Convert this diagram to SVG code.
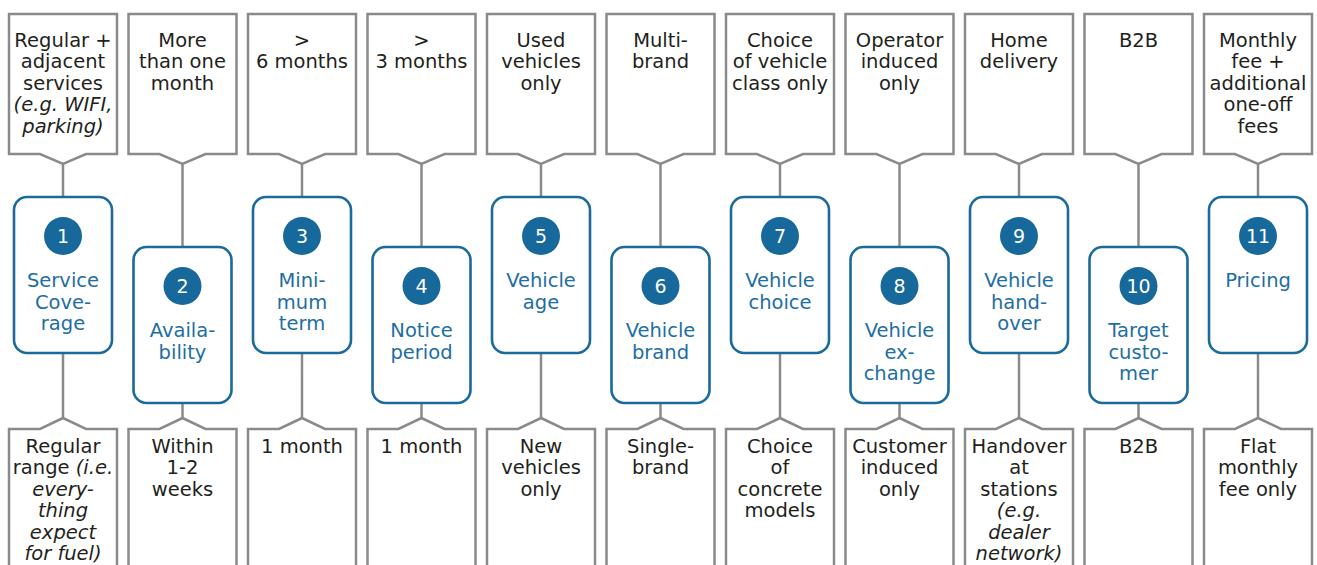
<svg xmlns="http://www.w3.org/2000/svg" width="1317" height="565" viewBox="0 0 1317 565">
  <style>
    .frame { fill: #ffffff; stroke: #8a8a8a; stroke-width: 2.5; stroke-linejoin: miter; }
    .link { stroke: #8a8a8a; stroke-width: 2.5; fill: none; }
    .node { fill: #ffffff; stroke: #1a6a9c; stroke-width: 2.6; }
    .badge { fill: #17689b; }
    .num { font-family: "DejaVu Sans", "Liberation Sans", sans-serif; font-size: 19px; fill: #ffffff; text-anchor: middle; }
    .opt { font-family: "DejaVu Sans", "Liberation Sans", sans-serif; font-size: 19.5px; fill: #231f20; text-anchor: middle; }
    .lbl { font-family: "DejaVu Sans", "Liberation Sans", sans-serif; font-size: 19.5px; fill: #1d6ea3; text-anchor: middle; }
    .it { font-style: italic; }
  </style>
  <defs>
    <path id="topFrame" class="frame" d="M-54,14 H54 V154 H23 L0,164 L-23,154 H-54 Z"/>
    <path id="bottomFrame" class="frame" d="M-54,580 V429 H-23 L0,418 L23,429 H54 V580"/>
  </defs>

  <!-- connectors: apex of upper frame to node, node to apex of lower frame -->
  <g id="connectors">
    <line class="link" x1="63" y1="164" x2="63" y2="197"/><line class="link" x1="63" y1="353" x2="63" y2="418"/>
    <line class="link" x1="182.5" y1="164" x2="182.5" y2="247"/><line class="link" x1="182.5" y1="403" x2="182.5" y2="418"/>
    <line class="link" x1="302" y1="164" x2="302" y2="197"/><line class="link" x1="302" y1="353" x2="302" y2="418"/>
    <line class="link" x1="421.5" y1="164" x2="421.5" y2="247"/><line class="link" x1="421.5" y1="403" x2="421.5" y2="418"/>
    <line class="link" x1="541" y1="164" x2="541" y2="197"/><line class="link" x1="541" y1="353" x2="541" y2="418"/>
    <line class="link" x1="660.5" y1="164" x2="660.5" y2="247"/><line class="link" x1="660.5" y1="403" x2="660.5" y2="418"/>
    <line class="link" x1="780" y1="164" x2="780" y2="197"/><line class="link" x1="780" y1="353" x2="780" y2="418"/>
    <line class="link" x1="899.5" y1="164" x2="899.5" y2="247"/><line class="link" x1="899.5" y1="403" x2="899.5" y2="418"/>
    <line class="link" x1="1019" y1="164" x2="1019" y2="197"/><line class="link" x1="1019" y1="353" x2="1019" y2="418"/>
    <line class="link" x1="1138.5" y1="164" x2="1138.5" y2="247"/><line class="link" x1="1138.5" y1="403" x2="1138.5" y2="418"/>
    <line class="link" x1="1258" y1="164" x2="1258" y2="197"/><line class="link" x1="1258" y1="353" x2="1258" y2="418"/>
  </g>

  <!-- 1 Service coverage -->
  <g id="top-1" transform="translate(63,0)">
    <use href="#topFrame"/>
    <text class="opt"><tspan x="0" y="47">Regular +</tspan><tspan x="0" y="68.4">adjacent</tspan><tspan x="0" y="89.8">services</tspan><tspan x="0" y="111.2" class="it">(e.g. WIFI,</tspan><tspan x="0" y="132.6" class="it">parking)</tspan></text>
  </g>
  <g id="node-1" transform="translate(63,197)">
    <rect class="node" x="-49" y="0" width="98" height="156" rx="13"/>
    <circle class="badge" cx="0" cy="39" r="19"/>
    <text class="num" x="0" y="46">1</text>
    <text class="lbl"><tspan x="0" y="90">Service</tspan><tspan x="0" y="111.5">Cove-</tspan><tspan x="0" y="133">rage</tspan></text>
  </g>
  <g id="bottom-1" transform="translate(63,0)">
    <use href="#bottomFrame"/>
    <text class="opt"><tspan x="0" y="453">Regular</tspan><tspan x="0" y="474.4">range <tspan class="it">(i.e.</tspan></tspan><tspan x="0" y="495.8" class="it">every-</tspan><tspan x="0" y="517.2" class="it">thing</tspan><tspan x="0" y="538.6" class="it">expect</tspan><tspan x="0" y="560" class="it">for fuel)</tspan></text>
  </g>

  <!-- 2 Availability -->
  <g id="top-2" transform="translate(182.5,0)">
    <use href="#topFrame"/>
    <text class="opt"><tspan x="0" y="47">More</tspan><tspan x="0" y="68.4">than one</tspan><tspan x="0" y="89.8">month</tspan></text>
  </g>
  <g id="node-2" transform="translate(182.5,247)">
    <rect class="node" x="-49" y="0" width="98" height="156" rx="13"/>
    <circle class="badge" cx="0" cy="39" r="19"/>
    <text class="num" x="0" y="46">2</text>
    <text class="lbl"><tspan x="0" y="90">Availa-</tspan><tspan x="0" y="111.5">bility</tspan></text>
  </g>
  <g id="bottom-2" transform="translate(182.5,0)">
    <use href="#bottomFrame"/>
    <text class="opt"><tspan x="0" y="453">Within</tspan><tspan x="0" y="474.4">1-2</tspan><tspan x="0" y="495.8">weeks</tspan></text>
  </g>

  <!-- 3 Minimum term -->
  <g id="top-3" transform="translate(302,0)">
    <use href="#topFrame"/>
    <text class="opt"><tspan x="0" y="47">&gt;</tspan><tspan x="0" y="68.4">6 months</tspan></text>
  </g>
  <g id="node-3" transform="translate(302,197)">
    <rect class="node" x="-49" y="0" width="98" height="156" rx="13"/>
    <circle class="badge" cx="0" cy="39" r="19"/>
    <text class="num" x="0" y="46">3</text>
    <text class="lbl"><tspan x="0" y="90">Mini-</tspan><tspan x="0" y="111.5">mum</tspan><tspan x="0" y="133">term</tspan></text>
  </g>
  <g id="bottom-3" transform="translate(302,0)">
    <use href="#bottomFrame"/>
    <text class="opt"><tspan x="0" y="453">1 month</tspan></text>
  </g>

  <!-- 4 Notice period -->
  <g id="top-4" transform="translate(421.5,0)">
    <use href="#topFrame"/>
    <text class="opt"><tspan x="0" y="47">&gt;</tspan><tspan x="0" y="68.4">3 months</tspan></text>
  </g>
  <g id="node-4" transform="translate(421.5,247)">
    <rect class="node" x="-49" y="0" width="98" height="156" rx="13"/>
    <circle class="badge" cx="0" cy="39" r="19"/>
    <text class="num" x="0" y="46">4</text>
    <text class="lbl"><tspan x="0" y="90">Notice</tspan><tspan x="0" y="111.5">period</tspan></text>
  </g>
  <g id="bottom-4" transform="translate(421.5,0)">
    <use href="#bottomFrame"/>
    <text class="opt"><tspan x="0" y="453">1 month</tspan></text>
  </g>

  <!-- 5 Vehicle age -->
  <g id="top-5" transform="translate(541,0)">
    <use href="#topFrame"/>
    <text class="opt"><tspan x="0" y="47">Used</tspan><tspan x="0" y="68.4">vehicles</tspan><tspan x="0" y="89.8">only</tspan></text>
  </g>
  <g id="node-5" transform="translate(541,197)">
    <rect class="node" x="-49" y="0" width="98" height="156" rx="13"/>
    <circle class="badge" cx="0" cy="39" r="19"/>
    <text class="num" x="0" y="46">5</text>
    <text class="lbl"><tspan x="0" y="90">Vehicle</tspan><tspan x="0" y="111.5">age</tspan></text>
  </g>
  <g id="bottom-5" transform="translate(541,0)">
    <use href="#bottomFrame"/>
    <text class="opt"><tspan x="0" y="453">New</tspan><tspan x="0" y="474.4">vehicles</tspan><tspan x="0" y="495.8">only</tspan></text>
  </g>

  <!-- 6 Vehicle brand -->
  <g id="top-6" transform="translate(660.5,0)">
    <use href="#topFrame"/>
    <text class="opt"><tspan x="0" y="47">Multi-</tspan><tspan x="0" y="68.4">brand</tspan></text>
  </g>
  <g id="node-6" transform="translate(660.5,247)">
    <rect class="node" x="-49" y="0" width="98" height="156" rx="13"/>
    <circle class="badge" cx="0" cy="39" r="19"/>
    <text class="num" x="0" y="46">6</text>
    <text class="lbl"><tspan x="0" y="90">Vehicle</tspan><tspan x="0" y="111.5">brand</tspan></text>
  </g>
  <g id="bottom-6" transform="translate(660.5,0)">
    <use href="#bottomFrame"/>
    <text class="opt"><tspan x="0" y="453">Single-</tspan><tspan x="0" y="474.4">brand</tspan></text>
  </g>

  <!-- 7 Vehicle choice -->
  <g id="top-7" transform="translate(780,0)">
    <use href="#topFrame"/>
    <text class="opt"><tspan x="0" y="47">Choice</tspan><tspan x="0" y="68.4">of vehicle</tspan><tspan x="0" y="89.8">class only</tspan></text>
  </g>
  <g id="node-7" transform="translate(780,197)">
    <rect class="node" x="-49" y="0" width="98" height="156" rx="13"/>
    <circle class="badge" cx="0" cy="39" r="19"/>
    <text class="num" x="0" y="46">7</text>
    <text class="lbl"><tspan x="0" y="90">Vehicle</tspan><tspan x="0" y="111.5">choice</tspan></text>
  </g>
  <g id="bottom-7" transform="translate(780,0)">
    <use href="#bottomFrame"/>
    <text class="opt"><tspan x="0" y="453">Choice</tspan><tspan x="0" y="474.4">of</tspan><tspan x="0" y="495.8">concrete</tspan><tspan x="0" y="517.2">models</tspan></text>
  </g>

  <!-- 8 Vehicle exchange -->
  <g id="top-8" transform="translate(899.5,0)">
    <use href="#topFrame"/>
    <text class="opt"><tspan x="0" y="47">Operator</tspan><tspan x="0" y="68.4">induced</tspan><tspan x="0" y="89.8">only</tspan></text>
  </g>
  <g id="node-8" transform="translate(899.5,247)">
    <rect class="node" x="-49" y="0" width="98" height="156" rx="13"/>
    <circle class="badge" cx="0" cy="39" r="19"/>
    <text class="num" x="0" y="46">8</text>
    <text class="lbl"><tspan x="0" y="90">Vehicle</tspan><tspan x="0" y="111.5">ex-</tspan><tspan x="0" y="133">change</tspan></text>
  </g>
  <g id="bottom-8" transform="translate(899.5,0)">
    <use href="#bottomFrame"/>
    <text class="opt"><tspan x="0" y="453">Customer</tspan><tspan x="0" y="474.4">induced</tspan><tspan x="0" y="495.8">only</tspan></text>
  </g>

  <!-- 9 Vehicle handover -->
  <g id="top-9" transform="translate(1019,0)">
    <use href="#topFrame"/>
    <text class="opt"><tspan x="0" y="47">Home</tspan><tspan x="0" y="68.4">delivery</tspan></text>
  </g>
  <g id="node-9" transform="translate(1019,197)">
    <rect class="node" x="-49" y="0" width="98" height="156" rx="13"/>
    <circle class="badge" cx="0" cy="39" r="19"/>
    <text class="num" x="0" y="46">9</text>
    <text class="lbl"><tspan x="0" y="90">Vehicle</tspan><tspan x="0" y="111.5">hand-</tspan><tspan x="0" y="133">over</tspan></text>
  </g>
  <g id="bottom-9" transform="translate(1019,0)">
    <use href="#bottomFrame"/>
    <text class="opt"><tspan x="0" y="453">Handover</tspan><tspan x="0" y="474.4">at</tspan><tspan x="0" y="495.8">stations</tspan><tspan x="0" y="517.2" class="it">(e.g.</tspan><tspan x="0" y="538.6" class="it">dealer</tspan><tspan x="0" y="560" class="it">network)</tspan></text>
  </g>

  <!-- 10 Target customer -->
  <g id="top-10" transform="translate(1138.5,0)">
    <use href="#topFrame"/>
    <text class="opt"><tspan x="0" y="47">B2B</tspan></text>
  </g>
  <g id="node-10" transform="translate(1138.5,247)">
    <rect class="node" x="-49" y="0" width="98" height="156" rx="13"/>
    <circle class="badge" cx="0" cy="39" r="19"/>
    <text class="num" x="0" y="46">10</text>
    <text class="lbl"><tspan x="0" y="90">Target</tspan><tspan x="0" y="111.5">custo-</tspan><tspan x="0" y="133">mer</tspan></text>
  </g>
  <g id="bottom-10" transform="translate(1138.5,0)">
    <use href="#bottomFrame"/>
    <text class="opt"><tspan x="0" y="453">B2B</tspan></text>
  </g>

  <!-- 11 Pricing -->
  <g id="top-11" transform="translate(1258,0)">
    <use href="#topFrame"/>
    <text class="opt"><tspan x="0" y="47">Monthly</tspan><tspan x="0" y="68.4">fee +</tspan><tspan x="0" y="89.8">additional</tspan><tspan x="0" y="111.2">one-off</tspan><tspan x="0" y="132.6">fees</tspan></text>
  </g>
  <g id="node-11" transform="translate(1258,197)">
    <rect class="node" x="-49" y="0" width="98" height="156" rx="13"/>
    <circle class="badge" cx="0" cy="39" r="19"/>
    <text class="num" x="0" y="46">11</text>
    <text class="lbl"><tspan x="0" y="90">Pricing</tspan></text>
  </g>
  <g id="bottom-11" transform="translate(1258,0)">
    <use href="#bottomFrame"/>
    <text class="opt"><tspan x="0" y="453">Flat</tspan><tspan x="0" y="474.4">monthly</tspan><tspan x="0" y="495.8">fee only</tspan></text>
  </g>
</svg>
